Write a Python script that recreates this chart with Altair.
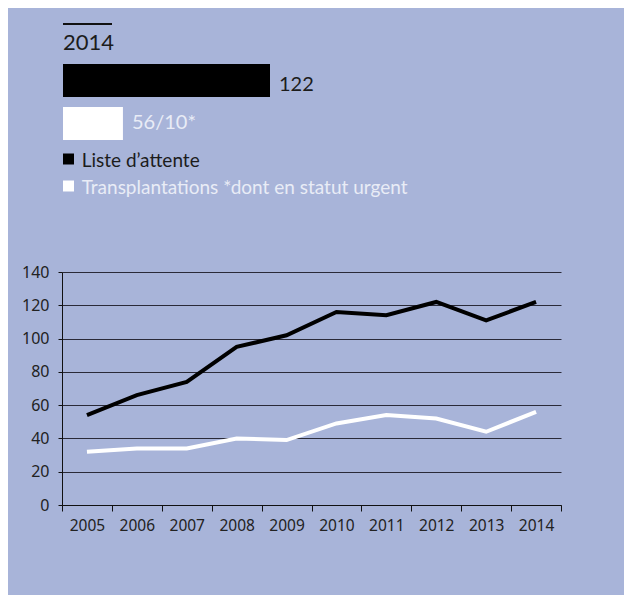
import altair as alt
import pandas as pd

# ---- data ----
years = ["2005", "2006", "2007", "2008", "2009", "2010", "2011", "2012", "2013", "2014"]
liste_attente = [54, 66, 74, 95, 102, 116, 114, 122, 111, 122]
transplantations = [32, 34, 34, 40, 39, 49, 54, 52, 44, 56]
series = ["Liste d’attente", "Transplantations *dont en statut urgent"]
y_ticks = [0, 20, 40, 60, 80, 100, 120, 140]
header_year = "2014"
header_values = [122, 56]
header_labels = ["122", "56/10*"]

# ---- styles ----
BG = "#a8b4d9"
DARK = "#1c1c1c"
LIGHT = "#e9ecf6"
AXIS_FONT = "Noto Sans"
HEAD_FONT = "Lato"
BAR_BASE = 29.1

lines_df = pd.DataFrame({
    "year": years * 2,
    "value": liste_attente + transplantations,
    "series": [series[0]] * len(years) + [series[1]] * len(years),
})
header_df = pd.DataFrame({"series": series, "value": header_values, "label": header_labels})
legend_df = pd.DataFrame({"series": series})
year_df = pd.DataFrame({"t": [header_year]})

color_scale = alt.Scale(domain=series, range=["#000000", "#ffffff"])
text_color = alt.condition(alt.datum.series == series[0], alt.value(DARK), alt.value(LIGHT))

lines = alt.Chart(lines_df).mark_line(strokeWidth=4).encode(
    x=alt.X("year:O",
            scale=alt.Scale(type="band", paddingInner=0, paddingOuter=0),
            axis=alt.Axis(title=None, tickBand="extent", labelAngle=0, grid=False,
                          domainColor="#111", tickColor="#111", tickSize=6,
                          labelPadding=7, labelFont=AXIS_FONT, labelFontSize=15.5,
                          labelColor="#222")),
    y=alt.Y("value:Q",
            scale=alt.Scale(domain=[0, 140], nice=False, zero=True),
            axis=alt.Axis(title=None, values=y_ticks, grid=True, gridColor="#2a2a38",
                          gridWidth=1, domainColor="#111", tickColor="#111", tickSize=4,
                          labelPadding=9, labelFont=AXIS_FONT, labelFontSize=16,
                          labelColor="#222")),
    color=alt.Color("series:N", scale=color_scale, legend=None),
)

xbar = alt.Scale(domain=[BAR_BASE, 122], range=[1, 208], zero=False, nice=False)
ybar = alt.Scale(domain=series, range=[-208, -132], paddingInner=0.2326, paddingOuter=0)

bars = alt.Chart(header_df).mark_bar().encode(
    x=alt.X("value:Q", scale=xbar, axis=None),
    x2=alt.datum(BAR_BASE),
    y=alt.Y("series:N", scale=ybar, axis=None),
    color=alt.Color("series:N", scale=color_scale, legend=None),
)

bar_text = alt.Chart(header_df).mark_text(
    align="left", baseline="middle", dx=9, dy=2, fontSize=20, font=HEAD_FONT
).encode(
    x=alt.X("value:Q", scale=xbar, axis=None),
    y=alt.Y("series:N", scale=ybar, axis=None),
    text="label:N",
    color=text_color,
)

yleg = alt.Scale(type="point", domain=series, range=[-113, -86], padding=0)

leg_sq = alt.Chart(legend_df).mark_square(size=121, opacity=1).encode(
    x=alt.value(6.5),
    y=alt.Y("series:N", scale=yleg, axis=None),
    color=alt.Color("series:N", scale=color_scale, legend=None),
)

leg_text = alt.Chart(legend_df).mark_text(
    align="left", baseline="middle", dy=1.5, fontSize=19, font=HEAD_FONT
).encode(
    x=alt.value(19.7),
    y=alt.Y("series:N", scale=yleg, axis=None),
    text="series:N",
    color=text_color,
)

top_rule = alt.Chart(year_df).mark_rule(strokeWidth=2, color="#111").encode(
    x=alt.value(1), x2=alt.value(50), y=alt.value(-248)
)

year_text = alt.Chart(year_df).mark_text(
    align="left", baseline="alphabetic", fontSize=22, font=HEAD_FONT, color=DARK
).encode(x=alt.value(1), y=alt.value(-222), text="t:N")

chart = alt.layer(
    lines, bars, bar_text, leg_sq, leg_text, top_rule, year_text
).resolve_scale(
    x="independent", y="independent"
).properties(
    width=499, height=233,
    padding={"left": 54, "top": 264, "right": 63, "bottom": 90},
    autosize=alt.AutoSizeParams(type="none"),
    background=BG,
).configure_view(stroke=None)

chart.save("out.html", embed_options={"renderer": "svg", "actions": False})
